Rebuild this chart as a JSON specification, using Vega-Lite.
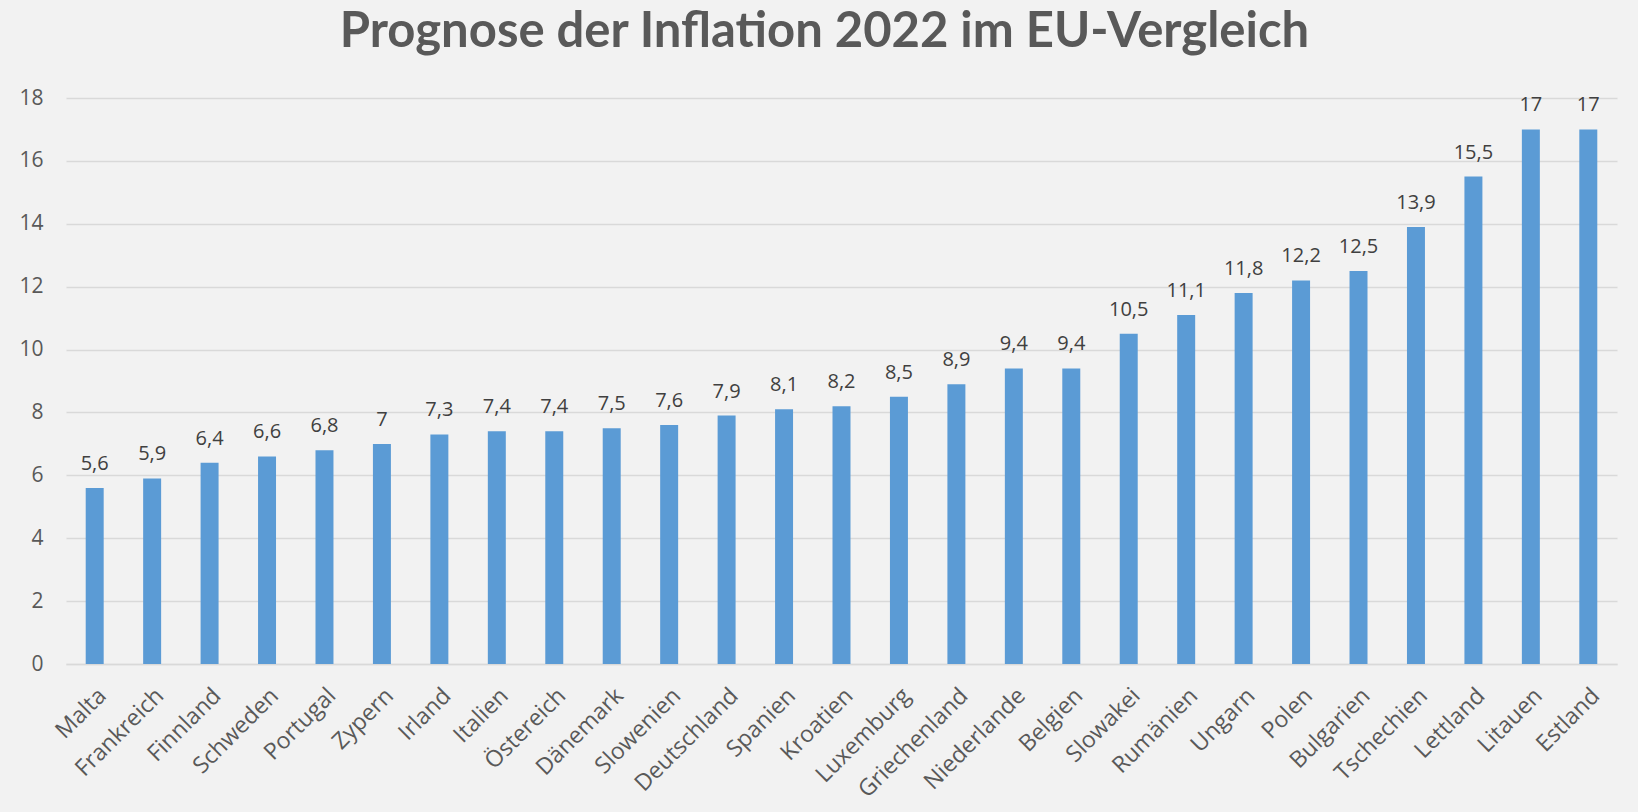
{
  "$schema": "https://vega.github.io/schema/vega-lite/v6.json",
  "width": 1551,
  "height": 566,
  "autosize": {"type": "none"},
  "padding": {"left": 66, "top": 98, "right": 21, "bottom": 148},
  "background": "#f2f2f2",
  "title": {
    "text": "Prognose der Inflation 2022 im EU-Vergleich",
    "font": "Lato",
    "fontSize": 49,
    "fontWeight": "bold",
    "color": "#595959",
    "anchor": "middle",
    "dx": -17,
    "offset": 30
  },
  "data": {
    "values": [
      {"land": "Malta", "wert": 5.6},
      {"land": "Frankreich", "wert": 5.9},
      {"land": "Finnland", "wert": 6.4},
      {"land": "Schweden", "wert": 6.6},
      {"land": "Portugal", "wert": 6.8},
      {"land": "Zypern", "wert": 7},
      {"land": "Irland", "wert": 7.3},
      {"land": "Italien", "wert": 7.4},
      {"land": "Östereich", "wert": 7.4},
      {"land": "Dänemark", "wert": 7.5},
      {"land": "Slowenien", "wert": 7.6},
      {"land": "Deutschland", "wert": 7.9},
      {"land": "Spanien", "wert": 8.1},
      {"land": "Kroatien", "wert": 8.2},
      {"land": "Luxemburg", "wert": 8.5},
      {"land": "Griechenland", "wert": 8.9},
      {"land": "Niederlande", "wert": 9.4},
      {"land": "Belgien", "wert": 9.4},
      {"land": "Slowakei", "wert": 10.5},
      {"land": "Rumänien", "wert": 11.1},
      {"land": "Ungarn", "wert": 11.8},
      {"land": "Polen", "wert": 12.2},
      {"land": "Bulgarien", "wert": 12.5},
      {"land": "Tschechien", "wert": 13.9},
      {"land": "Lettland", "wert": 15.5},
      {"land": "Litauen", "wert": 17},
      {"land": "Estland", "wert": 17}
    ]
  },
  "encoding": {
    "x": {
      "field": "land",
      "type": "nominal",
      "sort": null,
      "scale": {"paddingInner": 0.687, "paddingOuter": 0.343},
      "axis": {
        "title": null,
        "labelAngle": -45,
        "labelFont": "Open Sans",
        "labelFontSize": 23,
        "labelColor": "#595959",
        "labelPadding": 20,
        "labelOffset": 0,
        "ticks": false,
        "domain": true,
        "domainColor": "#d9d9d9",
        "domainWidth": 1.5,
        "grid": false
      }
    },
    "y": {
      "field": "wert",
      "type": "quantitative",
      "scale": {"domain": [0, 18]},
      "axis": {
        "title": null,
        "values": [0, 2, 4, 6, 8, 10, 12, 14, 16, 18],
        "labelFont": "Open Sans",
        "labelFontSize": 21,
        "labelColor": "#595959",
        "labelPadding": 23,
        "ticks": false,
        "domain": false,
        "grid": true,
        "gridColor": "#d9d9d9",
        "gridWidth": 1.5
      }
    }
  },
  "layer": [
    {"mark": {"type": "bar", "color": "#5b9bd5"}},
    {
      "mark": {"type": "text", "dy": -18, "baseline": "alphabetic", "font": "Open Sans", "fontSize": 20, "color": "#404040"},
      "encoding": {"text": {"field": "wert", "type": "quantitative", "format": ".1~f"}}
    }
  ],
  "config": {
    "view": {"stroke": null},
    "locale": {
      "number": {"decimal": ",", "thousands": ".", "grouping": [3], "currency": ["", " €"]}
    }
  }
}
